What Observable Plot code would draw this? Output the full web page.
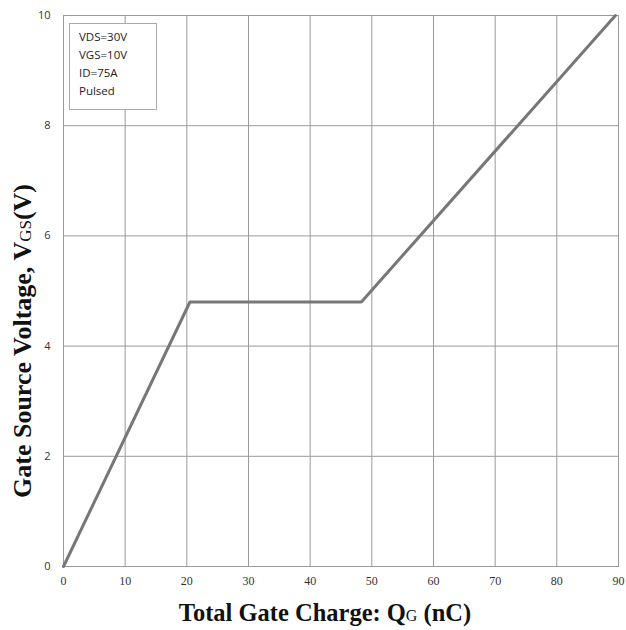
<!DOCTYPE html>
<html>
<head>
<meta charset="utf-8">
<script src="https://cdn.jsdelivr.net/npm/d3@7"></script>
<script src="https://cdn.jsdelivr.net/npm/@observablehq/plot@0.6"></script>
<style>
  html, body { margin: 0; padding: 0; background: #fff; }
  #wrap { position: relative; width: 626px; height: 630px; }
  #cond {
    position: absolute; left: 69px; top: 23px; width: 88px; height: 87px;
    box-sizing: border-box; border: 1px solid #aaa; background: #fff;
    font-family: "Open Sans", sans-serif; font-size: 11.5px; line-height: 18px;
    color: #222; padding: 4px 0 0 9px;
  }
</style>
</head>
<body>
<div id="wrap"></div>
<script>
// Gate charge curve: breakpoints of V_GS versus Q_G
const chargeNC = [0, 20.5, 48.3, 89.5];
const gateVolts = [0, 4.8, 4.8, 10];

// Axis ticks
const xTicks = [0, 10, 20, 30, 40, 50, 60, 70, 80, 90];
const yTicks = [0, 2, 4, 6, 8, 10];

// Test conditions
const conditions = ["VDS=30V", "VGS=10V", "ID=75A", "Pulsed"];

const curve = chargeNC.map((q, i) => ({q, v: gateVolts[i]}));

const chart = Plot.plot({
  width: 626,
  height: 630,
  marginLeft: 63,
  marginTop: 15,
  marginRight: 8,
  marginBottom: 64,
  style: {background: "#fff"},
  x: {domain: [0, 90]},
  y: {domain: [0, 10]},
  marks: [
    Plot.gridX(xTicks, {stroke: "#9a9a9a", strokeOpacity: 1, strokeWidth: 1}),
    Plot.gridY(yTicks, {stroke: "#9a9a9a", strokeOpacity: 1, strokeWidth: 1}),
    Plot.frame({stroke: "#9a9a9a"}),
    Plot.axisX(xTicks, {
      tickSize: 0, tickPadding: 10, fontSize: 12, tickFormat: d => String(d),
      fontFamily: "Liberation Serif, serif", fill: "#333", label: null
    }),
    Plot.axisY(yTicks, {
      tickSize: 0, tickPadding: 13, fontSize: 11, tickFormat: d => String(d),
      fontFamily: "Open Sans, sans-serif", fill: "#333", label: null
    }),
    Plot.line(curve, {x: "q", y: "v", stroke: "#777", strokeWidth: 3, strokeLinejoin: "miter"})
  ]
});

const svg = d3.select(chart);

// Axis titles with subscripts
const titleFont = "Liberation Serif, 'Times New Roman', serif";
const xt = svg.append("text")
  .attr("x", 325).attr("y", 621)
  .attr("text-anchor", "middle")
  .attr("font-family", titleFont).attr("font-size", 24.5).attr("font-weight", "bold")
  .attr("fill", "#111");
xt.append("tspan").text("Total Gate Charge: Q");
xt.append("tspan").attr("font-size", 16).attr("font-weight", "normal").text("G");
xt.append("tspan").text(" (nC)");

const yt = svg.append("text")
  .attr("transform", "translate(31,341) rotate(-90)")
  .attr("text-anchor", "middle")
  .attr("font-family", titleFont).attr("font-size", 26).attr("font-weight", "bold")
  .attr("fill", "#111");
yt.append("tspan").text("Gate Source Voltage, V");
yt.append("tspan").attr("font-size", 17).attr("font-weight", "normal").text("GS");
yt.append("tspan").text("(V)");

const wrap = document.getElementById("wrap");
wrap.appendChild(chart);

// Conditions box
const box = document.createElement("div");
box.id = "cond";
box.innerHTML = conditions.map(s => `<div>${s}</div>`).join("");
wrap.appendChild(box);
</script>
</body>
</html>
